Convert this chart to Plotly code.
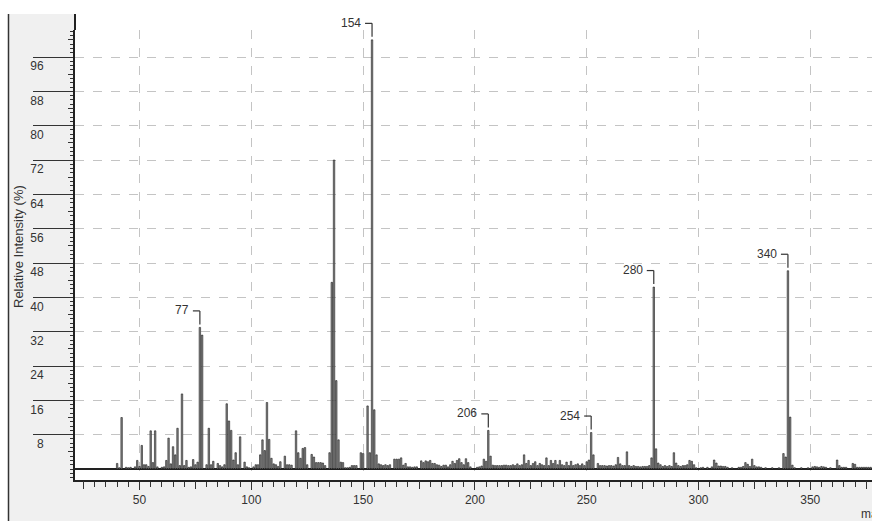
import plotly.graph_objects as go

# ---- data (m/z, relative intensity %) ----
mz = [40, 41, 42, 44, 45, 46, 48, 49, 50, 51, 52, 53, 54, 55, 56, 57, 58, 60, 61, 62,
      63, 64, 65, 66, 67, 68, 69, 70, 71, 72, 73, 74, 75, 76, 77, 78, 80, 81, 82, 83,
      85, 86, 87, 88, 89, 90, 91, 92, 93, 94, 95, 97, 98, 99, 101, 102, 103, 104, 105, 106,
      107, 108, 109, 110, 111, 112, 113, 115, 116, 117, 118, 120, 121, 122, 123, 124, 125, 127, 128, 129,
      130, 131, 132, 133, 135, 136, 137, 138, 139, 140, 141, 142, 143, 144, 145, 146, 147, 149, 150, 152,
      153, 154, 155, 156, 157, 158, 159, 160, 161, 162, 164, 165, 166, 167, 168, 169, 170, 171, 172, 173,
      174, 176, 177, 178, 179, 180, 181, 182, 183, 184, 185, 186, 187, 188, 189, 190, 191, 192, 193, 194,
      195, 196, 197, 198, 201, 202, 203, 204, 205, 206, 207, 208, 209, 210, 211, 212, 213, 214, 215, 216,
      217, 218, 219, 220, 221, 222, 223, 224, 225, 226, 227, 228, 229, 230, 231, 232, 233, 234, 235, 236,
      237, 238, 239, 240, 241, 242, 243, 244, 245, 246, 247, 248, 249, 250, 251, 252, 253, 255, 256, 257,
      258, 259, 260, 261, 262, 263, 264, 265, 266, 267, 268, 269, 270, 271, 272, 273, 274, 275, 276, 277,
      278, 279, 280, 281, 282, 283, 284, 285, 286, 287, 288, 289, 290, 291, 292, 293, 294, 295, 296, 297,
      298, 299, 301, 302, 304, 306, 307, 308, 309, 310, 311, 312, 313, 315, 318, 319, 320, 321, 322, 323,
      324, 325, 326, 327, 328, 330, 333, 336, 338, 339, 340, 341, 342, 343, 346, 349, 351, 352, 353, 354,
      355, 356, 357, 359, 362, 363, 364, 365, 366, 369, 370, 371, 372, 373, 374, 375, 376, 377]
intensity = [1.3, 0.3, 12.0, 0.4, 0.3, 0.4, 0.5, 2.0, 0.6, 5.5, 1.0, 1.0, 0.6, 8.9, 1.5, 8.9, 0.5, 0.4, 0.5, 2.0,
             7.2, 1.2, 5.2, 3.3, 9.5, 0.8, 17.5, 0.8, 2.0, 0.4, 0.5, 2.2, 1.0, 1.6, 33.0, 31.2, 1.0, 9.5, 1.0, 1.8,
             1.3, 0.8, 0.5, 1.0, 15.2, 11.2, 9.0, 2.1, 3.8, 1.0, 7.5, 1.6, 0.5, 0.3, 0.5, 1.0, 1.0, 3.3, 6.8, 4.3,
             15.5, 6.9, 2.5, 1.2, 1.0, 0.6, 1.7, 3.0, 1.0, 1.0, 0.9, 8.9, 3.8, 2.5, 4.8, 5.0, 1.0, 3.4, 2.8, 1.5,
             1.5, 1.5, 1.4, 0.8, 3.8, 43.5, 72.0, 20.6, 6.8, 1.6, 1.5, 0.3, 0.3, 0.4, 0.8, 0.8, 0.8, 3.8, 3.6, 14.7,
             3.8, 100.0, 13.8, 3.3, 1.2, 1.0, 0.8, 1.0, 0.8, 1.0, 2.3, 2.3, 2.3, 2.6, 0.9, 1.3, 0.5, 0.5, 0.4, 0.5,
             0.5, 1.9, 1.5, 1.9, 1.7, 2.0, 1.3, 1.3, 1.0, 0.9, 0.6, 0.9, 0.9, 0.5, 1.0, 1.8, 1.3, 2.0, 2.4, 1.5,
             1.0, 2.4, 1.5, 0.5, 0.4, 0.5, 0.7, 2.3, 1.8, 9.0, 3.0, 0.9, 0.8, 0.8, 0.8, 0.8, 0.9, 0.9, 0.8, 0.8,
             1.0, 0.8, 1.2, 0.8, 1.0, 3.3, 1.3, 2.0, 0.8, 1.3, 1.7, 0.8, 1.3, 1.0, 0.8, 2.6, 0.8, 2.0, 1.3, 2.0,
             1.0, 2.0, 1.0, 0.8, 1.6, 0.8, 1.8, 0.8, 1.0, 1.2, 0.8, 1.2, 0.8, 1.7, 2.1, 8.5, 3.3, 1.3, 0.8, 0.8,
             0.8, 0.7, 0.8, 0.8, 0.7, 1.0, 2.7, 1.2, 0.8, 0.8, 4.0, 0.8, 0.6, 0.8, 0.6, 0.6, 0.5, 0.6, 0.6, 0.6,
             0.8, 2.6, 42.4, 4.7, 1.4, 1.0, 0.6, 0.8, 0.6, 0.8, 0.6, 3.8, 1.4, 0.8, 0.6, 0.8, 0.8, 1.0, 2.0, 1.8,
             1.0, 0.3, 0.3, 0.4, 0.4, 0.5, 2.1, 1.4, 0.7, 0.7, 0.6, 0.6, 0.4, 0.3, 0.4, 0.4, 0.6, 1.5, 1.1, 0.6,
             2.3, 0.8, 0.5, 0.5, 0.4, 0.3, 0.3, 0.3, 3.6, 2.8, 46.2, 12.1, 0.9, 0.3, 0.3, 0.3, 0.5, 0.6, 0.5, 0.4,
             0.6, 0.5, 0.4, 0.3, 2.1, 0.8, 0.4, 0.4, 0.4, 1.3, 1.1, 0.4, 0.4, 0.4, 0.4, 0.4, 0.4, 0.4]

label_mz = [77, 154, 206, 252, 280, 340]
label_text = ["77", "154", "206", "254", "280", "340"]

y_tick_vals = [8, 16, 24, 32, 40, 48, 56, 64, 72, 80, 88, 96]
y_tick_text = ["8", "16", "24", "32", "40", "48", "56", "64", "72", "80", "88", "96"]
x_tick_vals = [50, 100, 150, 200, 250, 300, 350]
x_tick_text = ["50", "100", "150", "200", "250", "300", "350"]
x_mid_ticks = [25, 75, 125, 175, 225, 275, 325, 375]
y_mid_ticks = [4, 12, 20, 28, 36, 44, 52, 60, 68, 76, 84, 92, 100]

X_RANGE = [21.15, 377.6]
Y_RANGE = [-2.56, 102.3]

W, H = 872, 521
ML, MR, MT, MB = 75, 0, 30, 41
PW, PH = W - ML - MR, H - MT - MB

def px_to_paper_x(px):
    return (px - ML) / PW

def px_to_paper_y(py):
    return (H - MB - py) / PH

def x_to_paper(v):
    return (v - X_RANGE[0]) / (X_RANGE[1] - X_RANGE[0])

def y_to_paper(v):
    return (v - Y_RANGE[0]) / (Y_RANGE[1] - Y_RANGE[0])

lab_int = {m: v for m, v in zip(mz, intensity)}

fig = go.Figure()
fig.add_trace(go.Bar(
    x=mz, y=intensity, width=0.65,
    marker=dict(color="#8c8c8c", line=dict(color="#1a1a1a", width=0.6)),
    hoverinfo="x+y", showlegend=False,
))
# dummy traces to activate auxiliary tick axes
fig.add_trace(go.Scatter(x=[None], y=[None], xaxis="x2", yaxis="y", showlegend=False, hoverinfo="skip"))
fig.add_trace(go.Scatter(x=[None], y=[None], xaxis="x", yaxis="y2", showlegend=False, hoverinfo="skip"))

font = dict(family="Liberation Sans, Arial, sans-serif", size=12, color="#333333")

fig.update_layout(
    template="none",
    width=W, height=H,
    margin=dict(l=ML, r=MR, t=MT, b=MB, pad=0, autoexpand=False),
    paper_bgcolor="white", plot_bgcolor="white",
    bargap=0, font=font, showlegend=False,
    xaxis=dict(
        range=X_RANGE, tickmode="array", tickvals=x_tick_vals, ticktext=x_tick_text,
        ticks="outside", ticklen=8, tickwidth=1, tickcolor="#333",
        minor=dict(dtick=5, tick0=0, ticks="outside", ticklen=5, tickwidth=1, tickcolor="#333", showgrid=False),
        showline=True, linecolor="#222", linewidth=1.5,
        showgrid=True, gridcolor="#c4c4c4", griddash="dash", gridwidth=1,
        zeroline=False, tickfont=font, fixedrange=True, automargin=False,
    ),
    xaxis2=dict(
        overlaying="x", anchor="y", side="bottom", range=X_RANGE,
        tickmode="array", tickvals=x_mid_ticks, ticktext=[""] * len(x_mid_ticks),
        ticks="outside", ticklen=8, tickwidth=1, tickcolor="#333",
        showgrid=False, showline=False, zeroline=False, automargin=False, fixedrange=True,
    ),
    yaxis=dict(
        range=Y_RANGE, tickmode="array", tickvals=y_tick_vals, ticktext=y_tick_text,
        ticks="outside", ticklen=40, tickwidth=1, tickcolor="#333",
        minor=dict(dtick=1, tick0=0, ticks="outside", ticklen=3, tickwidth=1, tickcolor="#333", showgrid=False),
        showline=True, linecolor="#222", linewidth=2,
        showgrid=True, gridcolor="#c4c4c4", griddash="dash", gridwidth=1,
        zeroline=True, zerolinecolor="#222", zerolinewidth=1.2,
        tickfont=font, ticklabelstandoff=-13, ticklabelshift=9, fixedrange=True, automargin=False,
    ),
    yaxis2=dict(
        overlaying="y", anchor="x", side="left", range=Y_RANGE,
        tickmode="array", tickvals=y_mid_ticks, ticktext=[""] * len(y_mid_ticks),
        ticks="outside", ticklen=6, tickwidth=1, tickcolor="#333",
        showgrid=False, showline=False, zeroline=False, automargin=False, fixedrange=True,
    ),
)

shapes = [
    # gray frame panels
    dict(type="rect", xref="paper", yref="paper", layer="below",
         x0=px_to_paper_x(8), x1=0, y0=px_to_paper_y(H), y1=px_to_paper_y(14),
         fillcolor="#f0f0f0", line=dict(width=0)),
    dict(type="rect", xref="paper", yref="paper", layer="below",
         x0=px_to_paper_x(8), x1=1, y0=px_to_paper_y(H), y1=0,
         fillcolor="#f0f0f0", line=dict(width=0)),
    dict(type="line", xref="paper", yref="paper",
         x0=px_to_paper_x(8.5), x1=px_to_paper_x(8.5), y0=px_to_paper_y(H), y1=px_to_paper_y(14),
         line=dict(color="#333", width=1.5)),
    dict(type="line", xref="paper", yref="paper",
         x0=0, x1=0, y0=1, y1=px_to_paper_y(14),
         line=dict(color="#222", width=2)),
]

annotations = []
for m, t in zip(label_mz, label_text):
    v = lab_int[m]
    xa, ya = x_to_paper(m), y_to_paper(v)
    shapes.append(dict(type="line", xref="paper", yref="paper", xsizemode="pixel", ysizemode="pixel",
                       xanchor=xa, yanchor=ya, x0=-7, x1=0, y0=16.5, y1=16.5,
                       line=dict(color="#333", width=1.2)))
    shapes.append(dict(type="line", xref="paper", yref="paper", xsizemode="pixel", ysizemode="pixel",
                       xanchor=xa, yanchor=ya, x0=0, x1=0, y0=16.5, y1=3,
                       line=dict(color="#333", width=1.2)))
    annotations.append(dict(x=m, y=v, xref="x", yref="y", text=t, showarrow=False,
                            xanchor="right", yanchor="middle", xshift=-9, yshift=17,
                            font=font))

annotations.append(dict(text="Relative Intensity (%)", textangle=-90, showarrow=False,
                        xref="paper", yref="paper", x=px_to_paper_x(18), y=px_to_paper_y(246),
                        xanchor="center", yanchor="middle",
                        font=dict(family="Liberation Sans, Arial, sans-serif", size=13, color="#333")))
annotations.append(dict(text="mass (m/z)", showarrow=False, xref="paper", yref="paper",
                        x=px_to_paper_x(859), y=px_to_paper_y(514), xanchor="left", yanchor="middle",
                        font=dict(family="Liberation Sans, Arial, sans-serif", size=12, color="#333")))

fig.update_layout(shapes=shapes, annotations=annotations)
fig.write_html("out.html", config={"displayModeBar": False, "staticPlot": True},
               post_script="document.body.style.margin='0px';document.body.style.overflow='hidden';")
